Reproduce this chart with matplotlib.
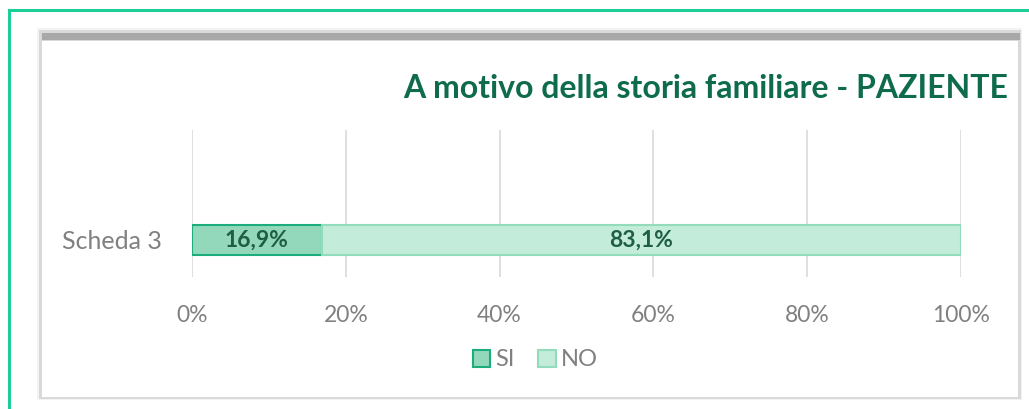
import matplotlib
matplotlib.use("Agg")
import matplotlib.pyplot as plt
from matplotlib.patches import Rectangle
from matplotlib.lines import Line2D

# dati
categorie = ["Scheda 3"]
serie = ["SI", "NO"]
valori_si = [16.9]
valori_no = [83.1]
etichette = ["16,9%", "83,1%"]
tick_x = [0, 20, 40, 60, 80, 100]

W, H = 1029, 409
fig = plt.figure(figsize=(W / 100, H / 100), dpi=100)
plt.rcParams["font.family"] = ["Lato", "DejaVu Sans"]

def fx(px):
    return px / W

def fy(py):
    return 1 - py / H

# bordo verde esterno
fig.add_artist(Line2D([fx(8.5), fx(8.5)], [fy(10), 0], color="#1ccf98", lw=2.2, zorder=-5))
fig.add_artist(Line2D([fx(8.5), 1], [fy(10), fy(10)], color="#1ccf98", lw=2.2, zorder=-5))

# pannello del grafico con ombra
fig.add_artist(Rectangle((fx(37), fy(400)), fx(985), fy(28) - fy(400),
                         facecolor="#f3f3f3", edgecolor="none", zorder=-10))
fig.add_artist(Rectangle((fx(39), fy(399)), fx(982), fy(30) - fy(399),
                         facecolor="#d9d9d9", edgecolor="none", zorder=-9))
fig.add_artist(Rectangle((fx(42), fy(397)), fx(976), fy(41) - fy(397),
                         facecolor="white", edgecolor="none", zorder=-8))
fig.add_artist(Rectangle((fx(42), fy(40)), fx(978), fy(33) - fy(40),
                         facecolor="#a8a8a8", edgecolor="none", zorder=-7))

ax = fig.add_axes([fx(192), fy(277), fx(961 - 192), fy(130) - fy(277)])
ax.set_facecolor("none")
ax.set_zorder(2)

y = range(len(categorie))
ax.barh(y, valori_si, height=0.51, color="#93d8bb", edgecolor="#1cad7d", lw=1.5, zorder=3)
ax.barh(y, valori_no, left=valori_si, height=0.51, color="#c3ecda", edgecolor="#92dcbc",
        lw=1.5, zorder=3)

for i in y:
    ax.text(valori_si[i] / 2, i, etichette[0], ha="center", va="center",
            fontsize=16.5, fontweight="bold", color="#1f5e45", zorder=4)
    ax.text(valori_si[i] + valori_no[i] / 2, i, etichette[1], ha="center", va="center",
            fontsize=16.5, fontweight="bold", color="#1f5e45", zorder=4)

ax.set_xlim(0, 100)
ax.set_ylim(-0.63, 1.87)
ax.set_xticks(tick_x)
ax.set_xticklabels([f"{t}%" for t in tick_x], fontsize=16.5, color="#808080")
ax.set_yticks(list(y))
ax.set_yticklabels(categorie, fontsize=18, color="#808080")
ax.tick_params(length=0, pad=20)
ax.tick_params(axis="y", pad=22)
ax.grid(axis="x", color="#d9d9d9", lw=1.2, zorder=0)
for s in ax.spines.values():
    s.set_visible(False)

fig.text(fx(1008), fy(88), "A motivo della storia familiare - PAZIENTE", ha="right",
         va="center", fontsize=23, fontweight="bold", color="#0e6b4c")

handles = [Rectangle((0, 0), 1, 1, facecolor="#93d8bb", edgecolor="#1cad7d", lw=1.5),
           Rectangle((0, 0), 1, 1, facecolor="#c3ecda", edgecolor="#92dcbc", lw=1.5)]
fig.legend(handles, serie, loc="center", bbox_to_anchor=(fx(535), fy(360)), ncol=2,
           frameon=False, fontsize=17, handlelength=0.75, handleheight=0.75,
           handletextpad=0.2, columnspacing=1.0, labelcolor="#808080")

fig.savefig("out.png", dpi=100)
